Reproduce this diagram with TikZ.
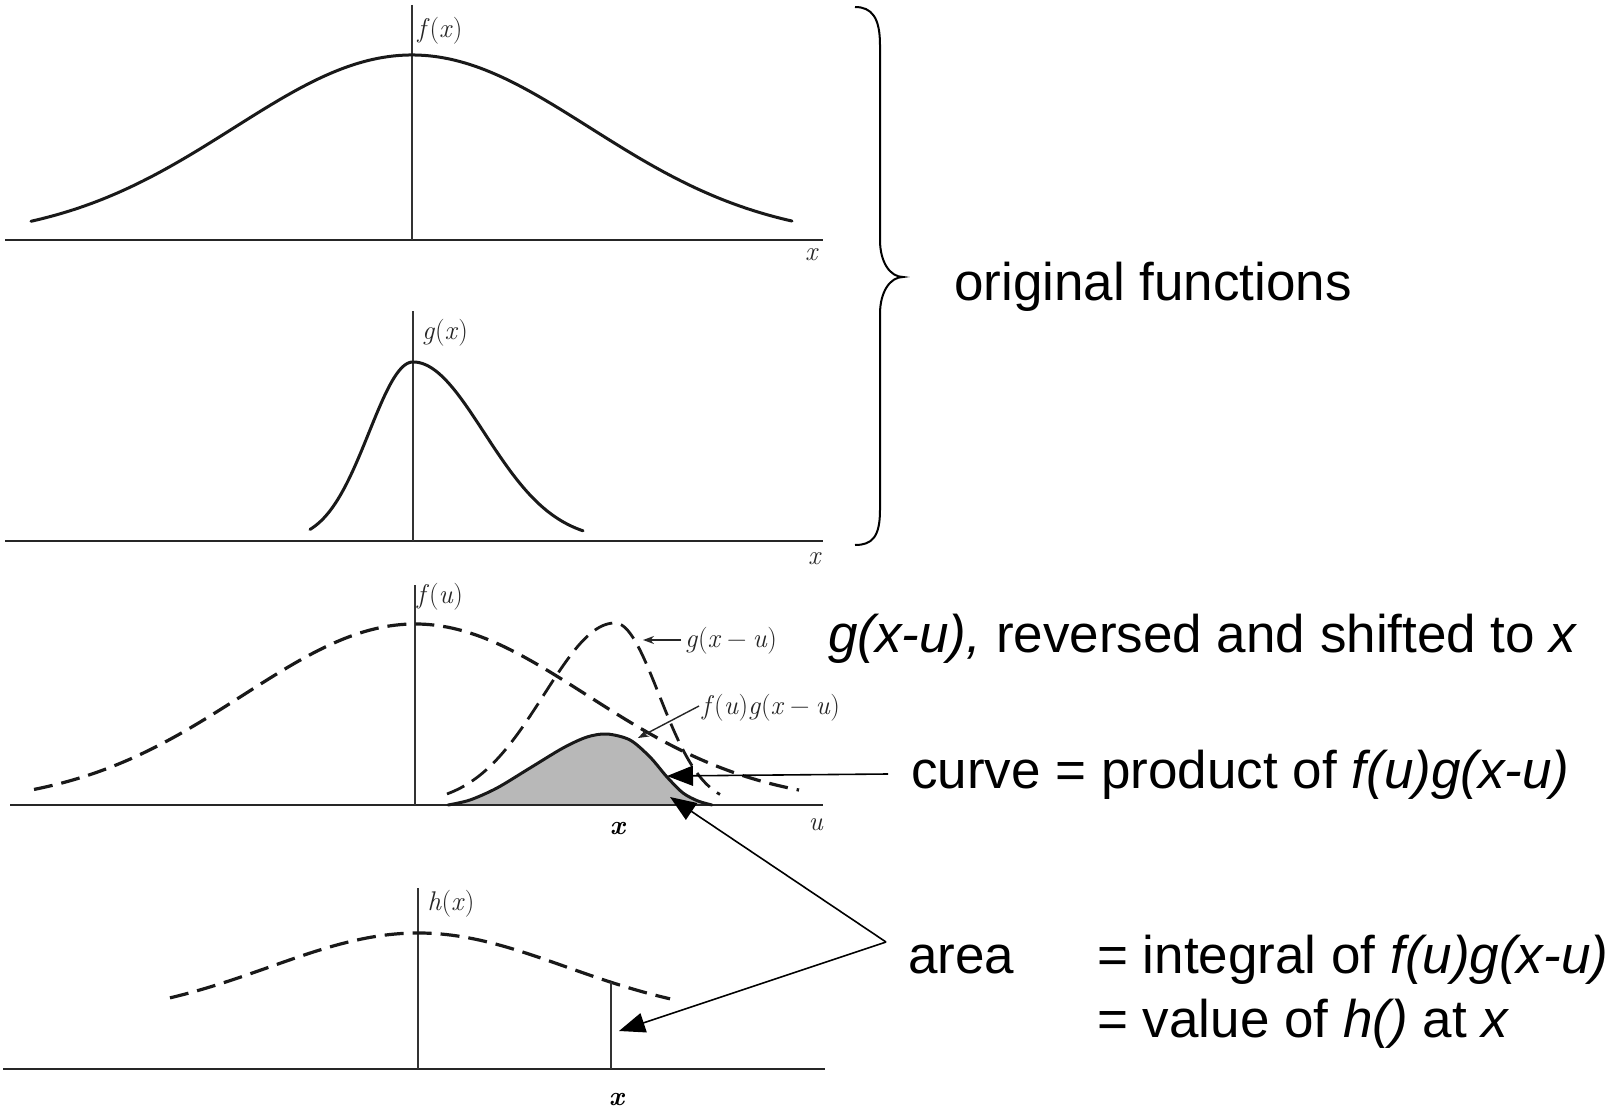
\documentclass[tikz,border=0pt]{standalone}
\usepackage{fontspec}
\newfontfamily\annsans{Liberation Sans}
\newcommand{\mi}[1]{\textit{#1}}
\newcommand{\mminus}{\hspace{0.22em}−\hspace{0.22em}}
\usetikzlibrary{arrows.meta}
\begin{document}
\begin{tikzpicture}[x=1pt,y=-1pt,
  curve/.style={line width=3pt, black!90, line cap=round},
  dcurve/.style={line width=3.2pt, black!90, dash pattern=on 19pt off 9pt},
  baseaxis/.style={line width=2.2pt, black!85},
  vaxis/.style={line width=1.3pt, black!80},
  mlab/.style={font=\fontsize{27}{30}\selectfont, text=black!85, inner sep=0pt},
  big/.style={font=\annsans\fontsize{53}{60}\selectfont, inner sep=0pt, anchor=base west},
  annot/.style={line width=1.6pt, -{Triangle[length=26pt,width=20pt]}},
  smallarr/.style={line width=1.4pt, black!85, -{Stealth[length=11pt,width=8pt]}},
  bracestyle/.style={line width=2pt, black}
]
\useasboundingbox[fill=white] (0,0) rectangle (1623,1110);

% ---------- panel 1 : f(x)
\draw[baseaxis] (5,240) -- (823,240);
\draw[vaxis] (412,5) -- (412,240);
\draw[curve] plot[domain=31:792, samples=150] (\x,{240-185*exp(-0.5*((\x-412)/178)^2)});
\node[mlab] (fx) at (440,31) {\mi{f}(\mi{x})};
\node[mlab] (x1) at (812,255) {\mi{x}};

% ---------- panel 2 : g(x)
\draw[baseaxis] (5,541) -- (823,541);
\draw[vaxis] (413,311) -- (413,541);
\draw[curve] plot[domain=310:413, samples=60] (\x,{541-179*exp(-0.5*((\x-413)/44)^2)})
  -- plot[domain=413:583, samples=90] (\x,{541-179*exp(-0.5*((\x-413)/71)^2)});
\node[mlab] (gx) at (445,333) {\mi{g}(\mi{x})};
\node[mlab] (x2) at (815,559) {\mi{x}};

% ---------- panel 3 : f(u), g(x-u), product
\fill[black!28] plot[smooth] coordinates {(448,805) (470,800) (497,788) (530,768) (563,748) (587,737) (607,734) (630,740) (650,757) (667,777) (683,793) (698,801) (712,805)} -- cycle;
\draw[baseaxis] (10,805) -- (823,805);
\draw[vaxis] (415,585) -- (415,805);
\draw[dcurve] plot[domain=34:799, samples=160] (\x,{805-181*exp(-0.5*((\x-415)/172)^2)});
\draw[dcurve, line width=2.8pt] plot[domain=447:615, samples=70] (\x,{805-182*exp(-0.5*((\x-615)/71)^2)})
  -- plot[domain=615:720, samples=50] (\x,{805-182*exp(-0.5*((\x-615)/44)^2)});
\draw[curve] plot[smooth] coordinates {(448,805) (470,800) (497,788) (530,768) (563,748) (587,737) (607,734) (630,740) (650,757) (667,777) (683,793) (698,801) (712,805)};
\node[mlab] (fu) at (440,597) {\mi{f}(\mi{u})};
\node[mlab] (ulab) at (816,825) {\mi{u}};
\node[mlab, text=black] (xb3) at (618,828) {\textbf{\textit{x}}};
\node[mlab, anchor=west] (gxu) at (685,641) {\mi{g}(\mi{x}\mminus\mi{u})};
\node[mlab, anchor=west] (fugxu) at (702,708) {\mi{f}(\mi{u})\mi{g}(\mi{x}\mminus\mi{u})};
\coordinate (gxutip) at (643,640);
\coordinate (fgtip) at (638,738);
\coordinate (gxutail) at (681,640);
\coordinate (fgtail) at (699,706);
\draw[smallarr] (gxutail) -- (gxutip);
\draw[smallarr] (fgtail) -- (fgtip);

% ---------- panel 4 : h(x)
\draw[baseaxis] (3,1069) -- (825,1069);
\draw[vaxis] (418,888) -- (418,1069);
\draw[dcurve] plot[domain=170:670, samples=120] (\x,{1019-86*exp(-0.5*((\x-418)/148)^2)});
\coordinate (hmark) at (611,982);
\draw[vaxis] (hmark) -- (611,1069);
\node[mlab] (hx) at (451,904) {\mi{h}(\mi{x})};
\node[mlab, text=black] (xb4) at (617,1099) {\textbf{\textit{x}}};

% ---------- brace
\draw[bracestyle] (855,7) .. controls (872,7) and (880,18) .. (880,45) -- (880,240)
  .. controls (880,262) and (890,277) .. (903,277)
  .. controls (890,277) and (880,292) .. (880,314) -- (880,510)
  .. controls (880,537) and (872,545) .. (855,545);

% ---------- annotations
\node[big] (orig) at (954,300) {original functions};
\node[big] (rev) at (828,652) {\textit{g(x-u),} reversed and shifted to \textit{x}};
\node[big] (prod) at (911,788) {curve = product of \textit{f(u)g(x-u)}};
\node[big] (area) at (908,973) {area};
\node[big] (integ) at (1097,973) {= integral of \textit{f(u)g(x-u)}};
\node[big] (value) at (1097,1037) {= value of \textit{h()} at \textit{x}};

\coordinate (prodtail) at (888,774);
\coordinate (prodtip) at (667,776);
\draw[annot] (prodtail) -- (prodtip);
\coordinate (areafork) at (886,942);
\coordinate (shadetip) at (670,797);
\coordinate (htip) at (619,1031);
\draw[annot] (areafork) -- (shadetip);
\draw[annot] (areafork) -- (htip);
\end{tikzpicture}
\end{document}
